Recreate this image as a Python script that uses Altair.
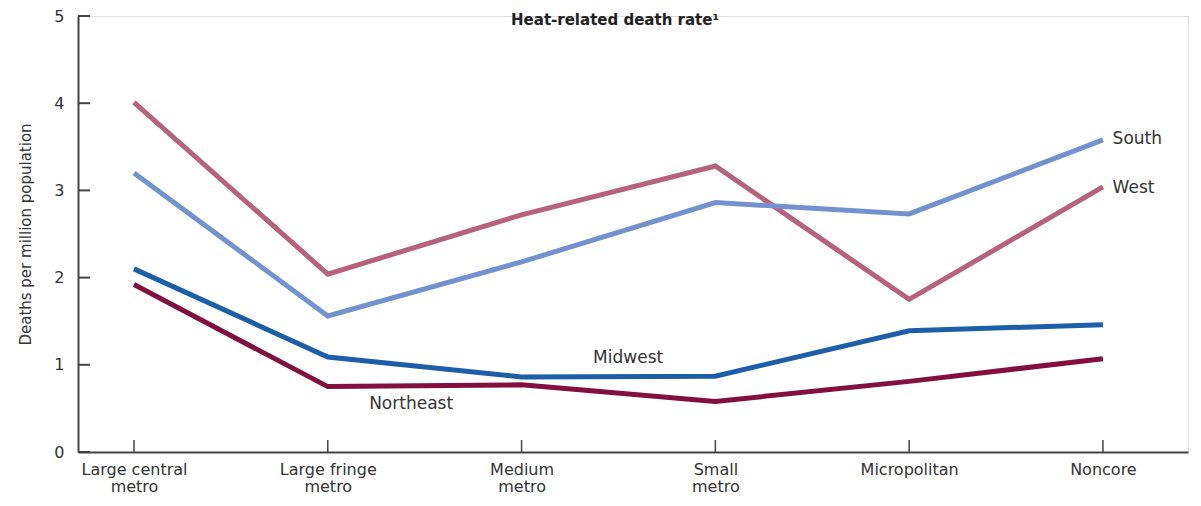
import altair as alt
import pandas as pd

categories = ["Large central metro", "Large fringe metro", "Medium metro",
              "Small metro", "Micropolitan", "Noncore"]
label_lines = [["Large central", "metro"], ["Large fringe", "metro"], ["Medium", "metro"],
               ["Small", "metro"], ["Micropolitan"], ["Noncore"]]
west = [4.01, 2.04, 2.72, 3.28, 1.75, 3.04]
south = [3.20, 1.56, 2.18, 2.86, 2.73, 3.58]
midwest = [2.10, 1.09, 0.86, 0.87, 1.39, 1.46]
northeast = [1.92, 0.75, 0.77, 0.58, 0.81, 1.07]
series_names = ["West", "South", "Midwest", "Northeast"]
series_colors = ["#b5627a", "#7391cf", "#1c5fa8", "#82103f"]
y_ticks = [0, 1, 2, 3, 4, 5]

rows = []
for name, vals in zip(series_names, [west, south, midwest, northeast]):
    for i, v in enumerate(vals):
        rows.append({"series": name, "idx": i, "category": categories[i], "value": v})
df = pd.DataFrame(rows)

labels_df = pd.DataFrame({
    "series": ["South", "West", "Midwest", "Northeast"],
    "x": [5.05, 5.05, 2.55, 1.43],
    "y": [3.59, 3.03, 1.08, 0.55],
    "align": ["left", "left", "center", "center"],
})

font = "DejaVu Sans"
X_DOMAIN = [-0.289, 5.439]

# build label expression for multi-line x labels
expr_parts = []
for i, lines in enumerate(label_lines):
    arr = "[" + ",".join("'" + s + "'" for s in lines) + "]"
    expr_parts.append(f"datum.value == {i} ? {arr}")
label_expr = " : ".join(expr_parts) + " : ''"

xscale = alt.Scale(domain=X_DOMAIN, nice=False, zero=False)
yscale = alt.Scale(domain=[0, 5], nice=False)

lines = alt.Chart(df).mark_line(strokeWidth=5, strokeJoin="miter").encode(
    x=alt.X("idx:Q", scale=xscale,
            axis=alt.Axis(values=list(range(len(categories))), labelExpr=label_expr,
                          title=None, ticks=False, grid=False, domainColor="#444",
                          domainWidth=2, labelFont=font, labelFontSize=16,
                          labelColor="#333", labelPadding=9, labelLineHeight=17,
                          labelBaseline="top")),
    y=alt.Y("value:Q", scale=yscale,
            axis=alt.Axis(values=y_ticks, format="d", title="Deaths per million population",
                          titleFont=font, titleFontSize=15, titleFontWeight="normal",
                          titleColor="#333", titlePadding=20,
                          ticks=False, grid=False, domainColor="#444", domainWidth=2,
                          labelFont=font, labelFontSize=16, labelColor="#333",
                          labelPadding=14)),
    color=alt.Color("series:N", scale=alt.Scale(domain=series_names, range=series_colors),
                    legend=None),
    detail="series:N",
)

ytick_df = pd.DataFrame({"v": y_ticks})
yticks = alt.Chart(ytick_df).mark_rule(color="#444", strokeWidth=2).encode(
    y=alt.Y("v:Q", scale=yscale),
    x=alt.value(0), x2=alt.value(12),
)

xtick_df = pd.DataFrame({"i": list(range(len(categories)))})
xticks = alt.Chart(xtick_df).mark_rule(color="#444", strokeWidth=1.5).encode(
    x=alt.X("i:Q", scale=xscale),
    y=alt.value(436), y2=alt.value(424),
)

text_left = alt.Chart(labels_df[labels_df["align"] == "left"]).mark_text(
    font=font, fontSize=17, color="#333", align="left", baseline="middle").encode(
    x=alt.X("x:Q", scale=xscale), y=alt.Y("y:Q", scale=yscale), text="series:N")
text_center = alt.Chart(labels_df[labels_df["align"] == "center"]).mark_text(
    font=font, fontSize=17, color="#333", align="center", baseline="middle").encode(
    x=alt.X("x:Q", scale=xscale), y=alt.Y("y:Q", scale=yscale), text="series:N")

title_df = pd.DataFrame({"t": ["Heat-related death rate\u00b9"]})
title = alt.Chart(title_df).mark_text(font=font, fontSize=15, fontWeight="bold",
                                      color="#222", align="center",
                                      baseline="middle").encode(
    text="t:N", x=alt.value(537), y=alt.value(4),
)

chart = alt.layer(lines, yticks, xticks, text_left, text_center, title).properties(
    width=1110, height=436,
    autosize=alt.AutoSizeParams(type="none"),
    padding={"left": 70, "top": 8, "right": 5, "bottom": 45},
).configure_view(stroke=None).configure(background="white")

chart.save("out.html", embed_options={"renderer": "svg", "actions": False})
